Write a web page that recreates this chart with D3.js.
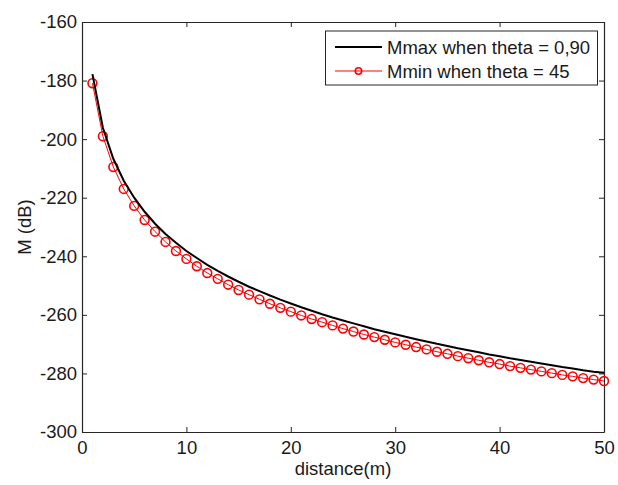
<!DOCTYPE html>
<html>
<head>
<meta charset="utf-8">
<script src="https://cdn.jsdelivr.net/npm/d3@7"></script>
<style>
  html, body { margin: 0; padding: 0; background: #fff; }
  svg text { font-family: "Liberation Sans", Arial, sans-serif; fill: #1a1a1a; }
</style>
</head>
<body>
<svg id="chart" width="618" height="485"></svg>
<script>
// Distance (m) at which the two field levels were evaluated
const distance = [
  1, 2, 3, 4, 5, 6, 7, 8, 9, 10,
  11, 12, 13, 14, 15, 16, 17, 18, 19, 20,
  21, 22, 23, 24, 25, 26, 27, 28, 29, 30,
  31, 32, 33, 34, 35, 36, 37, 38, 39, 40,
  41, 42, 43, 44, 45, 46, 47, 48, 49, 50
];

// Mmax (dB), theta = 0,90
const mMax = [
  -177.8, -196.1, -206.7, -214.2, -220.0, -224.8, -228.9, -232.4, -235.4, -238.2,
  -240.6, -242.9, -245.0, -246.9, -248.7, -250.4, -251.9, -253.4, -254.8, -256.1,
  -257.4, -258.6, -259.8, -260.9, -261.9, -262.9, -263.9, -264.9, -265.8, -266.6,
  -267.5, -268.3, -269.1, -269.9, -270.6, -271.4, -272.1, -272.8, -273.5, -274.1,
  -274.8, -275.4, -276.0, -276.6, -277.2, -277.8, -278.3, -278.9, -279.4, -279.8
];

// Mmin (dB), theta = 45
const mMin = [
  -180.9, -199.0, -209.5, -217.0, -222.8, -227.6, -231.6, -235.1, -238.2, -240.9,
  -243.4, -245.7, -247.7, -249.7, -251.5, -253.1, -254.7, -256.2, -257.6, -258.9,
  -260.2, -261.4, -262.5, -263.6, -264.7, -265.7, -266.7, -267.6, -268.5, -269.4,
  -270.2, -271.0, -271.8, -272.6, -273.3, -274.1, -274.8, -275.5, -276.2, -276.8,
  -277.5, -278.1, -278.7, -279.3, -279.9, -280.5, -281.0, -281.6, -282.1, -282.6
];

const xTicks = [0, 10, 20, 30, 40, 50];
const yTicks = [-300, -280, -260, -240, -220, -200, -180, -160];
const seriesNames = ["Mmax when theta = 0,90", "Mmin when theta = 45"];

const svg = d3.select("#chart");
const box = { left: 82, top: 22, right: 604, bottom: 432 };
const FONT = 18.5;
const AXIS = "#262626";

const x = d3.scaleLinear().domain([0, 50]).range([box.left, box.right]);
const y = d3.scaleLinear().domain([-300, -160]).range([box.bottom, box.top]);

// Axes: labelled bottom/left, tick-only top/right, ticks pointing inward
const tickLen = 5;
const axisBottomG = svg.append("g").attr("transform", `translate(0,${box.bottom})`)
  .call(d3.axisBottom(x).tickValues(xTicks).tickSizeInner(-tickLen).tickSizeOuter(0).tickPadding(9));
const axisLeftG = svg.append("g").attr("transform", `translate(${box.left},0)`)
  .call(d3.axisLeft(y).tickValues(yTicks).tickFormat(d3.format("d")).tickSizeInner(-tickLen).tickSizeOuter(0).tickPadding(5));
const axisTopG = svg.append("g").attr("transform", `translate(0,${box.top})`)
  .call(d3.axisTop(x).tickValues(xTicks).tickSizeInner(-tickLen).tickSizeOuter(0).tickFormat(""));
const axisRightG = svg.append("g").attr("transform", `translate(${box.right},0)`)
  .call(d3.axisRight(y).tickValues(yTicks).tickSizeInner(-tickLen).tickSizeOuter(0).tickFormat(""));

[axisBottomG, axisLeftG, axisTopG, axisRightG].forEach(g => {
  g.select(".domain").attr("stroke", AXIS).attr("stroke-width", 1.2);
  g.selectAll(".tick line").attr("stroke", AXIS).attr("stroke-width", 1);
  g.selectAll(".tick text").attr("font-size", FONT).attr("fill", "#1a1a1a")
    .attr("font-family", "Liberation Sans, Arial, sans-serif");
});
axisLeftG.selectAll(".tick text").text(d => d < 0 ? "-" + Math.abs(d) : d);

// Axis titles
svg.append("text")
  .attr("x", (box.left + box.right) / 2)
  .attr("y", 475)
  .attr("text-anchor", "middle")
  .attr("font-size", FONT)
  .text("distance(m)");

svg.append("text")
  .attr("transform", `translate(31,${(box.top + box.bottom) / 2}) rotate(-90)`)
  .attr("text-anchor", "middle")
  .attr("font-size", FONT)
  .text("M (dB)");

// Series
const line = d3.line().x(d => x(d[0])).y(d => y(d[1]));
const maxPts = distance.map((d, i) => [d, mMax[i]]);
const minPts = distance.map((d, i) => [d, mMin[i]]);

svg.append("path").datum(minPts)
  .attr("d", line).attr("fill", "none").attr("stroke", "#ff0000").attr("stroke-width", 1);

svg.append("g").selectAll("circle").data(minPts).join("circle")
  .attr("cx", d => x(d[0])).attr("cy", d => y(d[1])).attr("r", 4.4)
  .attr("fill", "none").attr("stroke", "#ff0000").attr("stroke-width", 1.6);

svg.append("path").datum(maxPts)
  .attr("d", line).attr("fill", "none").attr("stroke", "#000").attr("stroke-width", 2);

// Legend
const lg = svg.append("g");
lg.append("rect")
  .attr("x", 325.5).attr("y", 31).attr("width", 272).attr("height", 54)
  .attr("fill", "#fff").attr("stroke", AXIS).attr("stroke-width", 1);
const rows = [
  { name: seriesNames[0], color: "#000", width: 2, marker: false, yy: 47 },
  { name: seriesNames[1], color: "#ff0000", width: 1, marker: true, yy: 71 }
];
rows.forEach(r => {
  lg.append("line").attr("x1", 335).attr("x2", 382).attr("y1", r.yy).attr("y2", r.yy)
    .attr("stroke", r.color).attr("stroke-width", r.width);
  if (r.marker) {
    lg.append("circle").attr("cx", 358.5).attr("cy", r.yy).attr("r", 3.2)
      .attr("fill", "none").attr("stroke", r.color).attr("stroke-width", 1.6);
  }
  lg.append("text").attr("x", 387).attr("y", r.yy + 6.5)
    .attr("font-size", FONT).text(r.name);
});
</script>
</body>
</html>
